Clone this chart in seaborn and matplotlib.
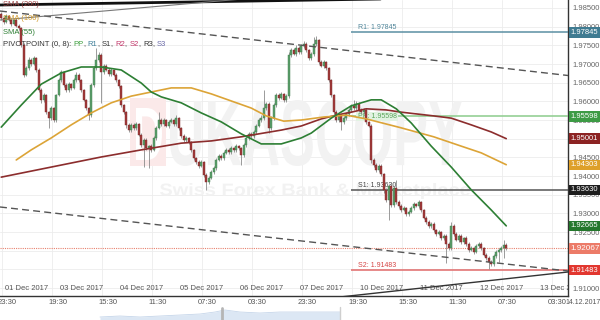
import matplotlib
matplotlib.use("Agg")
import matplotlib.pyplot as plt
import matplotlib.transforms as mtransforms
from matplotlib.patches import Rectangle, PathPatch
from matplotlib.textpath import TextPath
from matplotlib.font_manager import FontProperties
import numpy as np
import pandas as pd
import seaborn as sns

# ---------------- data ----------------
first_open = 1.9834
close = [
    1.9823, 1.9812, 1.9829, 1.9818, 1.9807, 1.9818, 1.9802, 1.9796, 1.9751, 1.9671,
    1.9689, 1.9711, 1.9700, 1.9716, 1.9684, 1.9630, 1.9604, 1.9617, 1.9571, 1.9555,
    1.9582, 1.9550, 1.9617, 1.9657, 1.9679, 1.9644, 1.9630, 1.9646, 1.9636, 1.9657,
    1.9671, 1.9657, 1.9630, 1.9604, 1.9582, 1.9563, 1.9644, 1.9689, 1.9711, 1.9724,
    1.9679, 1.9695, 1.9684, 1.9673, 1.9684, 1.9671, 1.9657, 1.9641, 1.9590, 1.9571,
    1.9537, 1.9523, 1.9537, 1.9529, 1.9539, 1.9510, 1.9483, 1.9496, 1.9475, 1.9480,
    1.9470, 1.9502, 1.9529, 1.9550, 1.9539, 1.9550, 1.9534, 1.9545, 1.9550, 1.9539,
    1.9555, 1.9529, 1.9507, 1.9496, 1.9502, 1.9491, 1.9470, 1.9448, 1.9438, 1.9427,
    1.9438, 1.9403, 1.9384, 1.9395, 1.9411, 1.9422, 1.9443, 1.9454, 1.9448, 1.9462,
    1.9470, 1.9464, 1.9475, 1.9470, 1.9480, 1.9475, 1.9456, 1.9483, 1.9502, 1.9513,
    1.9507, 1.9518, 1.9534, 1.9550, 1.9555, 1.9582, 1.9593, 1.9529, 1.9555, 1.9590,
    1.9617, 1.9609, 1.9620, 1.9604, 1.9614, 1.9724, 1.9737, 1.9727, 1.9743, 1.9732,
    1.9748, 1.9754, 1.9737, 1.9716, 1.9727, 1.9754, 1.9764, 1.9705, 1.9695, 1.9705,
    1.9689, 1.9657, 1.9617, 1.9571, 1.9550, 1.9561, 1.9545, 1.9555, 1.9566, 1.9577,
    1.9588, 1.9582, 1.9593, 1.9577, 1.9571, 1.9577, 1.9545, 1.9534, 1.9443, 1.9430,
    1.9416, 1.9427, 1.9405, 1.9363, 1.9336, 1.9373, 1.9322, 1.9368, 1.9330, 1.9320,
    1.9309, 1.9314, 1.9298, 1.9304, 1.9314, 1.9325, 1.9320, 1.9330, 1.9309, 1.9288,
    1.9277, 1.9266, 1.9272, 1.9255, 1.9245, 1.9250, 1.9234, 1.9239, 1.9218, 1.9207,
    1.9266, 1.9245, 1.9229, 1.9239, 1.9223, 1.9234, 1.9218, 1.9202, 1.9207, 1.9197,
    1.9213, 1.9218, 1.9207, 1.9189, 1.9180, 1.9170, 1.9164, 1.9186, 1.9197, 1.9202,
    1.9207, 1.9215, 1.92067,
]
# upper / lower wick lengths in pips (0.0001)
wick_up = [
    4, 3, 5, 3, 4, 3, 5, 4, 3, 6,
    5, 8, 4, 6, 3, 4, 5, 6, 3, 4,
    5, 3, 4, 6, 5, 3, 4, 5, 3, 6,
    8, 4, 3, 4, 3, 4, 5, 6, 32, 8,
    6, 5, 4, 6, 5, 3, 4, 3, 4, 3,
    4, 5, 6, 4, 5, 3, 4, 6, 5, 4,
    5, 6, 5, 21, 5, 6, 4, 5, 6, 4,
    8, 4, 3, 5, 4, 3, 4, 3, 4, 5,
    4, 3, 5, 6, 5, 4, 6, 4, 5, 4,
    5, 4, 6, 4, 5, 4, 3, 6, 5, 4,
    5, 4, 6, 5, 8, 48, 6, 4, 6, 5,
    6, 5, 4, 3, 5, 8, 6, 5, 7, 5,
    6, 8, 5, 4, 6, 19, 10, 4, 6, 5,
    4, 3, 4, 3, 5, 6, 4, 5, 6, 5,
    6, 16, 8, 5, 6, 5, 4, 3, 4, 5,
    6, 5, 4, 3, 4, 6, 5, 6, 22, 5,
    5, 6, 4, 5, 6, 5, 4, 6, 3, 4,
    5, 4, 6, 5, 4, 5, 4, 6, 5, 4,
    11, 5, 4, 6, 5, 4, 5, 4, 5, 4,
    6, 4, 5, 3, 4, 5, 4, 6, 5, 6,
    5, 13, 6,
]
wick_dn = [
    4, 5, 3, 4, 6, 3, 4, 5, 6, 5,
    4, 5, 6, 3, 5, 6, 8, 5, 6, 27,
    4, 6, 5, 3, 4, 6, 5, 4, 6, 3,
    4, 5, 6, 4, 5, 13, 4, 5, 4, 5,
    83, 5, 4, 6, 5, 4, 6, 5, 4, 6,
    8, 5, 4, 6, 5, 4, 6, 59, 5, 54,
    6, 4, 5, 4, 6, 5, 4, 5, 4, 6,
    4, 5, 6, 4, 5, 6, 5, 4, 6, 5,
    4, 6, 21, 5, 4, 6, 5, 4, 5, 6,
    4, 5, 4, 6, 5, 4, 27, 5, 4, 6,
    5, 4, 6, 4, 5, 6, 4, 13, 5, 4,
    5, 6, 4, 5, 6, 4, 5, 4, 6, 5,
    4, 5, 6, 5, 4, 5, 6, 5, 4, 6,
    5, 4, 6, 5, 6, 4, 21, 5, 4, 6,
    5, 4, 6, 5, 4, 5, 6, 4, 8, 5,
    6, 5, 4, 8, 6, 54, 5, 6, 4, 5,
    6, 4, 5, 6, 4, 5, 4, 6, 5, 4,
    5, 6, 4, 5, 6, 4, 5, 6, 51, 4,
    5, 6, 4, 5, 6, 4, 5, 6, 4, 5,
    4, 6, 5, 4, 6, 19, 5, 4, 6, 27,
    5, 26, 4,
]

# moving averages (candle index, value)
sma55_idx = [0, 8, 16, 24, 32, 40, 48, 56, 60, 64, 72, 80, 88, 96, 104, 112, 120, 124,
             132, 140, 148, 152, 158, 164, 172, 180, 188, 196, 202]
sma55_val = [1.9531, 1.9590, 1.9646, 1.9676, 1.9692, 1.9692, 1.9684, 1.9649, 1.9625,
             1.9612, 1.9596, 1.9569, 1.9545, 1.9513, 1.9486, 1.9486, 1.9502, 1.9515,
             1.9555, 1.9588, 1.9604, 1.9604, 1.9580, 1.9542, 1.9480, 1.9424, 1.9363,
             1.9309, 1.92665]
sma100_idx = [6, 12, 20, 28, 36, 44, 52, 60, 68, 76, 84, 92, 100, 106, 113, 120, 129,
              138, 146, 160, 173, 184, 192, 202]
sma100_val = [1.9443, 1.9470, 1.9502, 1.9537, 1.9569, 1.9596, 1.9614, 1.9625, 1.9636,
              1.9636, 1.9620, 1.9601, 1.9582, 1.9561, 1.9547, 1.9550, 1.9558, 1.9563,
              1.9553, 1.9529, 1.9505, 1.9480, 1.9462, 1.94303]
sma200_idx = [0, 20, 40, 56, 72, 84, 96, 112, 120, 128, 134, 140, 146, 154, 160, 173,
              180, 188, 196, 202]
sma200_val = [1.9397, 1.9424, 1.9451, 1.9470, 1.9488, 1.9494, 1.9505, 1.9523, 1.9534,
              1.9553, 1.9563, 1.9571, 1.9580, 1.9577, 1.9571, 1.9561, 1.9555, 1.9537,
              1.9518, 1.95001]

pivot_names = ["R1", "PP", "S1", "S2"]
pivot_vals = [1.97845, 1.95598, 1.93630, 1.91483]
pivot_start = 140.5
last_price = 1.92067

# drawn trend lines (x in hours, price)
upper_chan_x, upper_chan_y = [0.0, 227.2], [1.98419, 1.96692]
lower_chan_x, lower_chan_y = [0.0, 227.2], [1.93171, 1.91457]
support_x, support_y = [136.0, 227.2], [1.90760, 1.91430]
top_thick_x, top_thick_y = [0.0, 227.2], [1.98580, 1.98820]
top_thin_x, top_thin_y = [0.0, 120.0], [1.98178, 1.98874]

date_labels = ["01 Dec 2017", "03 Dec 2017", "04 Dec 2017", "05 Dec 2017", "06 Dec 2017",
               "07 Dec 2017", "10 Dec 2017", "11 Dec 2017", "12 Dec 2017", "13 Dec 2017"]
date_pos = [1.2, 23.2, 47.2, 71.2, 95.2, 119.2, 143.2, 167.2, 191.2, 215.2]
time_labels = ["23:30", "19:30", "15:30", "11:30", "07:30", "03:30"] * 2
time_pos = [0.8 + 20 * k for k in range(12)]

nav_x = [40, 48, 56, 64, 72, 80, 86, 90, 96, 104, 112, 120, 128, 136]
nav_v = [3, 4, 3, 4, 5, 6, 8, 10, 8, 7, 8, 8, 8, 8]

# ---------------- style ----------------
sns.set_style("white")
plt.rcParams['font.family'] = ['Liberation Sans', 'DejaVu Sans']

W, H = 600, 320
fig = plt.figure(figsize=(6, 3.2), dpi=100)
ax = fig.add_axes([0, 24 / H, 568 / W, 296 / H])
YMIN, YMAX = 1.90787, 1.98714
XMAX = 227.2
ax.set_xlim(0, XMAX)
ax.set_ylim(YMIN, YMAX)

# watermark
def text_block(s, box, color, zorder):
    tp = TextPath((0, 0), s, size=1, prop=FontProperties(family='Liberation Sans', weight='bold'))
    ext = tp.get_extents()
    x0, ytop, x1, ybot = box
    tr = (mtransforms.Affine2D().translate(-ext.x0, -ext.y0)
          .scale((x1 - x0) / ext.width, (ybot - ytop) / ext.height)
          .translate(x0, H - ybot))
    p = PathPatch(tp, transform=tr, facecolor=color, edgecolor='none', zorder=zorder)
    ax.add_patch(p)

logo = Rectangle((130, H - 166), 36, 68, transform=mtransforms.IdentityTransform(),
                 facecolor='#fbe9e9', edgecolor='none', zorder=0.8)
ax.add_patch(logo)
text_block("D", (136, 108, 162, 160), 'white', 0.9)
text_block("UKASCOPY", (170, 100, 462, 166), '#f2f2f2', 0.8)
text_block("Swiss Forex Bank & Marketplace", (160, 183, 470, 199), '#f2f2f2', 0.8)

# grid / axes
yt = np.arange(1.910, 1.9851, 0.005)
hidden = {"1.95000", "1.92000", "1.91500"}   # covered by value boxes in the chart
ax.set_yticks(yt)
ax.set_yticklabels(["" if f"{v:.5f}" in hidden else f"{v:.5f}" for v in yt])
ax.yaxis.tick_right()
ax.tick_params(axis='y', length=0, pad=3, labelsize=5.5, labelcolor='#666666')
ax.set_xticks(date_pos)
ax.set_xticks(time_pos, minor=True)
ax.tick_params(axis='x', which='major', direction='in', length=3, width=0.8,
               color='#333333', labelbottom=False)
ax.tick_params(axis='x', which='minor', length=0, labelbottom=False)
ax.grid(axis='y', which='major', color='#ececec', lw=0.6)
ax.grid(axis='x', which='minor', color='#ececec', lw=0.6)
ax.grid(axis='x', which='major', visible=False)
for s in ['top', 'left']:
    ax.spines[s].set_visible(False)
for s in ['bottom', 'right']:
    ax.spines[s].set_color('#333333')
    ax.spines[s].set_linewidth(1.0)

# candles
opens = [first_open] + close[:-1]
df = pd.DataFrame({"t": np.arange(len(close)) + 0.5, "open": opens, "close": close})
df["top"] = df[["open", "close"]].max(axis=1)
df["bot"] = df[["open", "close"]].min(axis=1)
df["high"] = df["top"] + np.array(wick_up) * 1e-4
df["low"] = df["bot"] - np.array(wick_dn) * 1e-4
up = (df["close"] >= df["open"]).values
ax.vlines(df["t"], df["low"], df["high"], color='#8a8a8a', lw=0.6, zorder=4)
ax.bar(df["t"], (df["top"] - df["bot"]).clip(lower=0.00006), bottom=df["bot"], width=0.75,
       color=np.where(up, '#5c9f6b', '#a23b3b'), edgecolor=np.where(up, '#3d7a4b', '#7a2424'),
       linewidth=0.3, zorder=5)

# moving averages via seaborn
for idx, val, col in [(sma200_idx, sma200_val, '#8c2d2d'),
                      (sma100_idx, sma100_val, '#dca437'),
                      (sma55_idx, sma55_val, '#2d7f34')]:
    sns.lineplot(x=np.array(idx) + 0.5, y=val, color=col, lw=1.2, ax=ax, sort=False,
                 estimator=None, zorder=6)

# trend lines
ax.plot(upper_chan_x, upper_chan_y, color='#555555', lw=1.0, ls=(0, (5, 3)), zorder=6)
ax.plot(lower_chan_x, lower_chan_y, color='#555555', lw=1.0, ls=(0, (5, 3)), zorder=6)
ax.plot(support_x, support_y, color='#333333', lw=1.0, zorder=6)
ax.plot(top_thick_x, top_thick_y, color='#111111', lw=2.0, zorder=6)
ax.plot(top_thin_x, top_thin_y, color='#777777', lw=0.8, zorder=6)

# pivots
piv_col = {"R1": '#5b8fa3', "PP": '#8ccc8c', "S1": '#555555', "S2": '#e06a6a'}
piv_txt = {"R1": '#4f8599', "PP": '#5aa55a', "S1": '#444444', "S2": '#d54545'}
for n, v in zip(pivot_names, pivot_vals):
    ax.hlines(v, pivot_start, XMAX, color=piv_col[n], lw=1.1, zorder=3)
    if n == "PP":
        ax.annotate(f"PP: {v:.5f}", (143.0, v), xytext=(0, 0), textcoords='offset points',
                    fontsize=5, color=piv_txt[n], va='center', zorder=3.5,
                    bbox=dict(boxstyle='square,pad=0.15', fc='#e2f3e2', ec='none'))
    else:
        ax.annotate(f"{n}: {v:.5f}", (143.0, v), xytext=(0, 0.8), textcoords='offset points',
                    fontsize=5, color=piv_txt[n], va='bottom', zorder=3.5)

ax.axhline(last_price, color='#e8816e', lw=0.8, ls=(0, (1, 1)), zorder=3)

# right value boxes
rt = mtransforms.blended_transform_factory(ax.transAxes, ax.transData)
boxes = [(1.97845, '#3f7b91', 5.5), (1.95598, '#3d9b45', 5.5), (1.95001, '#8c2323', 5.5),
         (1.94303, '#dea02a', 5.5), (1.93630, '#1e1e1e', 5.5), (1.92665, '#24772c', 5.5),
         (1.92067, '#ec7b68', 5.9), (1.91483, '#e2372f', 5.5)]
for v, c, fs in boxes:
    ax.text(1.0045, v, f"{v:.5f}", transform=rt, fontsize=fs, color='white', ha='left',
            va='center', clip_on=False, zorder=10,
            bbox=dict(boxstyle='square,pad=0.22', fc=c, ec='none'))

# x labels
bt = mtransforms.blended_transform_factory(ax.transData, ax.transAxes)
for p, lab in zip(time_pos, time_labels):
    ax.text(p + 2.2, -7 / 296, lab, transform=bt, fontsize=5.5, color='#555555',
            ha='center', va='center', clip_on=False)
ax.text(583 / 568, -7 / 296, "14.12.2017", transform=ax.transAxes, fontsize=5.0,
        color='#555555', ha='center', va='center', clip_on=False)
for p, lab in zip(date_pos, date_labels):
    ax.text(p + 0.9, 8 / 296, lab, transform=bt, fontsize=5.5, color='#555555',
            ha='left', va='center', clip_on=True)

# legend (top left)
ax.text(3 / 568, 1 - 5 / 296, "SMA (200)", transform=ax.transAxes, fontsize=5.5,
        color='#9a4040', va='center', zorder=9)
ax.text(3 / 568, 1 - 19 / 296, "SMA (100)", transform=ax.transAxes, fontsize=5.5,
        color='#d19a2a', va='center', zorder=9)
ax.text(3 / 568, 1 - 33 / 296, "SMA (55)", transform=ax.transAxes, fontsize=5.5,
        color='#2d7f34', va='center', zorder=9)
pieces = [("PIVOTPOINT (0, 8): ", '#333333'), ("PP", '#3f9f3f'), (", ", '#333333'),
          ("R1", '#3f7f99'), (", ", '#333333'), ("S1", '#333333'), (", ", '#333333'),
          ("R2", '#c2386a'), (", ", '#333333'), ("S2", '#c2386a'), (", ", '#333333'),
          ("R3", '#333333'), (", ", '#333333'), ("S3", '#6a6aa8')]
prev = ax.text(3 / 568, 1 - 45 / 296, pieces[0][0], transform=ax.transAxes, fontsize=5.5,
               color=pieces[0][1], va='center', zorder=9)
for s, c in pieces[1:]:
    prev = ax.annotate(s, xy=(1, 0), xycoords=prev, fontsize=5.5, color=c, va='bottom',
                       zorder=9)

# navigator strip
nav = fig.add_axes([0, 0, 568 / W, 15 / H])
nav.set_xlim(0, XMAX)
nav.set_ylim(0, 15)
nav.fill_between(nav_x, nav_v, color='#dce7f4', lw=0)
nav.plot(nav_x, nav_v, color='#c6d6ea', lw=0.6)
nav.axvline(88.8, ymax=0.8, color='#b5b5b5', lw=2)
nav.axvline(136.0, ymax=0.85, color='#cfcfcf', lw=1)
nav.axis('off')

fig.savefig("out.png", dpi=100)
